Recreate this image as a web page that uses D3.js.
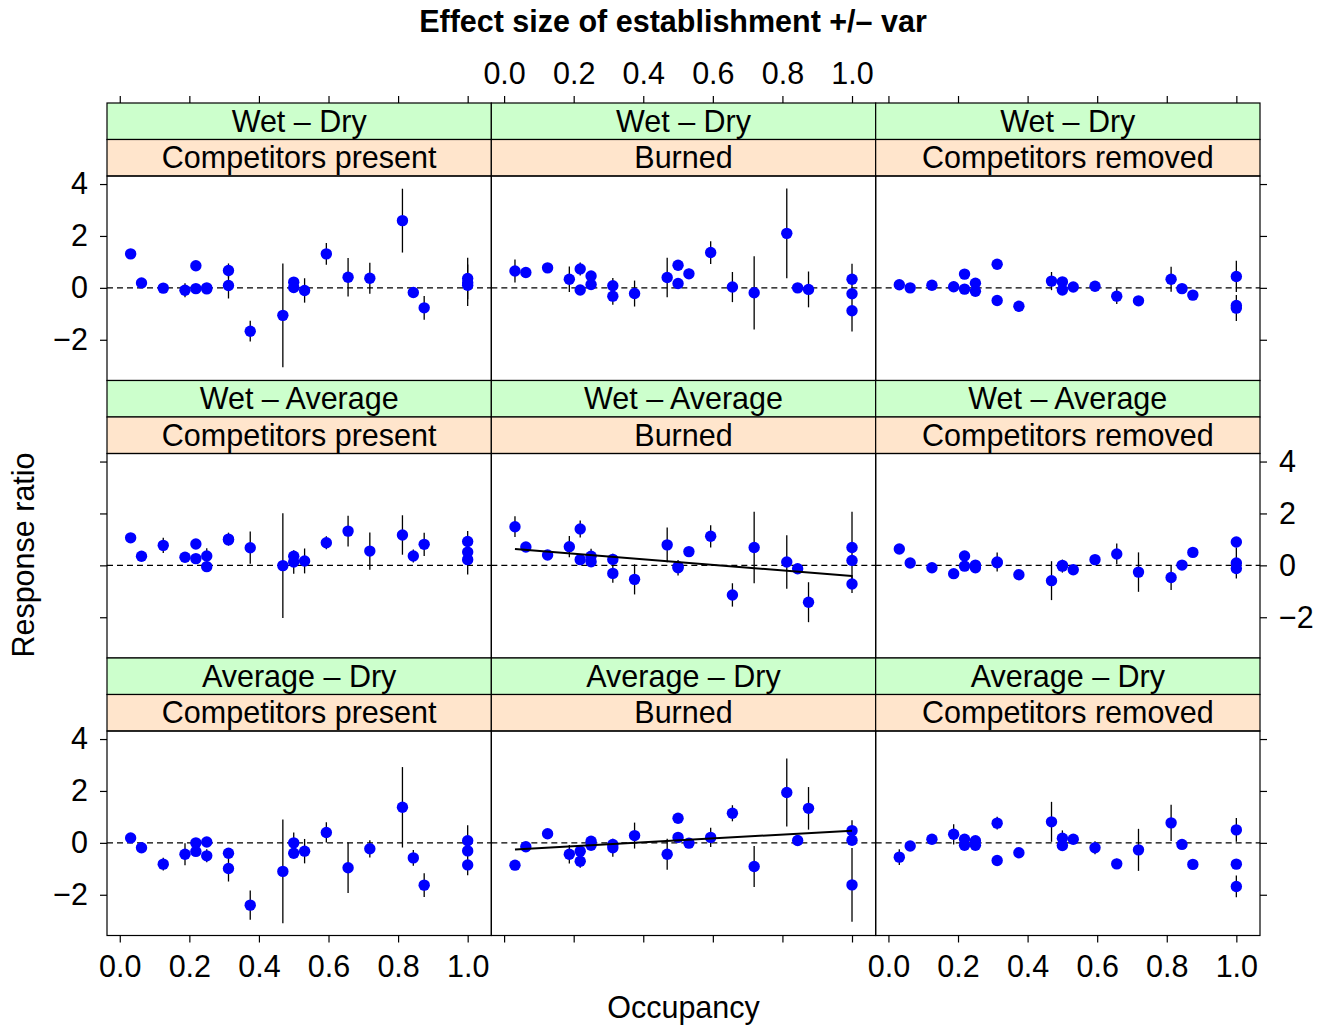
<!DOCTYPE html>
<html>
<head>
<meta charset="utf-8">
<script src="https://cdn.jsdelivr.net/npm/d3@7"></script>
<style>
  html, body { margin: 0; padding: 0; background: #fff; }
  svg { display: block; font-family: "Liberation Sans", Arial, Helvetica, sans-serif; }
</style>
</head>
<body>
<svg id="chart" width="1332" height="1027"></svg>
<script>
// Occupancy of each species (shared by all panels)
const occupancy = [0.03125, 0.0625, 0.125, 0.1875, 0.21875, 0.21875, 0.25, 0.25,
  0.3125, 0.3125, 0.375, 0.46875, 0.5, 0.5, 0.53125, 0.59375, 0.65625, 0.71875,
  0.8125, 0.84375, 0.875, 1, 1, 1];

const contrasts = ["Wet – Dry", "Wet – Average", "Average – Dry"];
const treatments = ["Competitors present", "Burned", "Competitors removed"];

const xTicks = [0, 0.2, 0.4, 0.6, 0.8, 1.0];
const yTicks = [-2, 0, 2, 4];
const xLimits = [-0.0367, 1.068];
const yLimits = [-3.57, 4.31];

// Wet – Dry
const wetDryPresent = [1.31, 0.19, -0.01, -0.09, 0.85, -0.03, 0.00, -0.04, 0.67, 0.09, -1.67, -1.06, 0.22, 0.01, -0.10, 1.31, 0.41, 0.37, 2.59, -0.18, -0.77, 0.36, 0.20, 0.10];
const wetDryPresentVar = [0.15, 0.05, 0.05, 0.27, 0.10, 0.05, 0.05, 0.05, 0.27, 0.50, 0.40, 2.00, 0.10, 0.10, 0.47, 0.42, 0.74, 0.60, 1.23, 0.10, 0.46, 0.80, 0.30, 0.80];
const wetDryBurned = [0.65, 0.59, 0.77, 0.33, 0.73, -0.08, 0.46, 0.13, 0.08, -0.32, -0.22, 0.40, 0.87, 0.17, 0.54, 1.36, 0.03, -0.19, 2.10, 0.00, -0.06, 0.33, -0.23, -0.88];
const wetDryBurnedVar = [0.44, 0.10, 0.10, 0.49, 0.25, 0.10, 0.10, 0.10, 0.30, 0.33, 0.50, 0.76, 0.10, 0.15, 0.20, 0.44, 0.58, 1.41, 1.73, 0.10, 0.69, 0.60, 0.10, 0.80];
const wetDryRemoved = [0.12, 0.00, 0.10, 0.04, 0.53, -0.05, 0.18, -0.13, 0.91, -0.49, -0.71, 0.26, 0.23, -0.08, 0.03, 0.06, -0.32, -0.50, 0.33, -0.03, -0.28, 0.44, -0.68, -0.78];
const wetDryRemovedVar = [0.10, 0.05, 0.05, 0.20, 0.05, 0.05, 0.05, 0.05, 0.05, 0.05, 0.20, 0.35, 0.05, 0.05, 0.05, 0.05, 0.30, 0.05, 0.48, 0.05, 0.05, 0.60, 0.10, 0.50];

// Wet – Average
const wetAvgPresent = [1.06, 0.35, 0.77, 0.31, 0.82, 0.26, 0.36, -0.05, 1.01, 0.98, 0.68, -0.01, 0.35, 0.13, 0.17, 0.87, 1.32, 0.55, 1.17, 0.36, 0.81, 0.92, 0.51, 0.22];
const wetAvgPresentVar = [0.10, 0.05, 0.29, 0.05, 0.10, 0.05, 0.30, 0.05, 0.25, 0.10, 0.62, 2.02, 0.10, 0.45, 0.48, 0.25, 0.59, 0.72, 0.76, 0.25, 0.45, 0.40, 0.10, 0.57];
const wetAvgBurned = [1.49, 0.71, 0.40, 0.72, 1.40, 0.22, 0.35, 0.14, 0.23, -0.31, -0.54, 0.79, -0.09, -0.05, 0.53, 1.12, -1.14, 0.69, 0.13, -0.13, -1.42, 0.69, 0.19, -0.72];
const wetAvgBurnedVar = [0.40, 0.10, 0.10, 0.41, 0.33, 0.10, 0.29, 0.10, 0.22, 0.36, 0.58, 0.67, 0.30, 0.10, 0.10, 0.43, 0.45, 1.38, 1.03, 0.10, 0.77, 1.38, 0.10, 0.35];
const wetAvgRemoved = [0.63, 0.09, -0.09, -0.32, 0.36, -0.03, 0.01, -0.09, 0.13, 0.10, -0.36, -0.59, -0.03, 0.00, -0.17, 0.22, 0.44, -0.26, -0.47, 0.01, 0.50, 0.90, 0.09, -0.12];
const wetAvgRemovedVar = [0.05, 0.05, 0.05, 0.05, 0.05, 0.05, 0.05, 0.05, 0.37, 0.05, 0.10, 0.75, 0.25, 0.05, 0.05, 0.05, 0.40, 0.76, 0.48, 0.05, 0.05, 0.10, 0.60, 0.10];

// Average – Dry
const avgDryPresent = [0.19, -0.19, -0.82, -0.44, 0.00, -0.33, 0.03, -0.50, -0.40, -0.99, -2.40, -1.10, 0.00, -0.40, -0.32, 0.40, -0.96, -0.23, 1.37, -0.58, -1.63, 0.08, -0.31, -0.85];
const avgDryPresentVar = [0.15, 0.05, 0.25, 0.42, 0.10, 0.10, 0.05, 0.25, 0.10, 0.50, 0.56, 2.00, 0.40, 0.10, 0.47, 0.39, 0.97, 0.33, 1.55, 0.30, 0.46, 0.60, 0.10, 0.40];
const avgDryBurned = [-0.86, -0.15, 0.35, -0.44, -0.32, -0.71, 0.06, -0.09, -0.06, -0.19, 0.28, -0.44, 0.95, 0.21, -0.01, 0.21, 1.14, -0.91, 1.94, 0.09, 1.33, 0.47, 0.10, -1.62];
const avgDryBurnedVar = [0.05, 0.05, 0.05, 0.36, 0.10, 0.25, 0.10, 0.05, 0.10, 0.35, 0.50, 0.60, 0.05, 0.10, 0.05, 0.37, 0.31, 0.79, 1.31, 0.05, 0.82, 0.40, 0.10, 1.42];
const avgDryRemoved = [-0.55, -0.12, 0.14, 0.33, 0.14, -0.09, 0.08, -0.09, 0.76, -0.68, -0.38, 0.81, 0.18, -0.10, 0.14, -0.19, -0.81, -0.27, 0.77, -0.06, -0.83, 0.50, -0.82, -1.68];
const avgDryRemovedVar = [0.30, 0.05, 0.05, 0.39, 0.20, 0.05, 0.05, 0.05, 0.25, 0.05, 0.05, 0.77, 0.30, 0.05, 0.05, 0.25, 0.20, 0.81, 0.70, 0.05, 0.05, 0.46, 0.05, 0.42];

// Fitted regression lines [intercept, slope] for burned plots
const wetAvgBurnedFit = [0.66, -1.07];
const avgDryBurnedFit = [-0.28, 0.75];

const panels = [
  { row: 0, col: 0, y: wetDryPresent, v: wetDryPresentVar },
  { row: 0, col: 1, y: wetDryBurned, v: wetDryBurnedVar },
  { row: 0, col: 2, y: wetDryRemoved, v: wetDryRemovedVar },
  { row: 1, col: 0, y: wetAvgPresent, v: wetAvgPresentVar },
  { row: 1, col: 1, y: wetAvgBurned, v: wetAvgBurnedVar, fit: wetAvgBurnedFit },
  { row: 1, col: 2, y: wetAvgRemoved, v: wetAvgRemovedVar },
  { row: 2, col: 0, y: avgDryPresent, v: avgDryPresentVar },
  { row: 2, col: 1, y: avgDryBurned, v: avgDryBurnedVar, fit: avgDryBurnedFit },
  { row: 2, col: 2, y: avgDryRemoved, v: avgDryRemovedVar }
];

// ---- layout ----
const gridLeft = 107, gridRight = 1260, gridTop = 103;
const colW = (gridRight - gridLeft) / 3;
const stripH = 36.5, panelH = 204.5;
const rowH = 2 * stripH + panelH;
const fontSize = 30.5;
const tickLen = 7;

const svg = d3.select("#chart");

const fmtX = d3.format(".1f");
const fmtY = d => d < 0 ? "\u2212" + Math.abs(d) : String(d);

function xScale(col) {
  return d3.scaleLinear().domain(xLimits).range([gridLeft + col * colW, gridLeft + (col + 1) * colW]);
}
function yScale(row) {
  const pTop = gridTop + row * rowH + 2 * stripH;
  return d3.scaleLinear().domain(yLimits).range([pTop + panelH, pTop]);
}

panels.forEach(p => {
  const x = xScale(p.col), y = yScale(p.row);
  const x0 = gridLeft + p.col * colW;
  const sTop = gridTop + p.row * rowH;
  const g = svg.append("g");

  // strips: contrast (green) above treatment (orange)
  const strips = [
    { label: contrasts[p.row], fill: "#ccffcc", y0: sTop },
    { label: treatments[p.col], fill: "#ffe5cc", y0: sTop + stripH }
  ];
  strips.forEach(s => {
    g.append("rect").attr("x", x0).attr("y", s.y0).attr("width", colW).attr("height", stripH)
      .attr("fill", s.fill).attr("stroke", "#000").attr("stroke-width", 1.2);
    g.append("text").attr("x", x0 + colW / 2).attr("y", s.y0 + stripH / 2 + 10.5)
      .attr("text-anchor", "middle").attr("font-size", fontSize).text(s.label);
  });

  const pts = occupancy.map((o, i) => ({ x: o, y: p.y[i], v: p.v[i] }));

  // reference line at zero
  g.append("line").attr("x1", x.range()[0]).attr("x2", x.range()[1])
    .attr("y1", y(0)).attr("y2", y(0))
    .attr("stroke", "#000").attr("stroke-width", 1.2).attr("stroke-dasharray", "6,4");

  // +/- var bars
  g.selectAll("line.bar").data(pts).join("line").attr("class", "bar")
    .attr("x1", d => x(d.x)).attr("x2", d => x(d.x))
    .attr("y1", d => y(d.y - d.v)).attr("y2", d => y(d.y + d.v))
    .attr("stroke", "#000").attr("stroke-width", 1.3);

  // effect sizes
  g.selectAll("circle").data(pts).join("circle")
    .attr("cx", d => x(d.x)).attr("cy", d => y(d.y)).attr("r", 5.7)
    .attr("fill", "#0000ff");

  // regression line over the occupancy range
  if (p.fit) {
    const ext = d3.extent(occupancy);
    const line = d3.line().x(d => x(d)).y(d => y(p.fit[0] + p.fit[1] * d));
    g.append("path").attr("d", line(ext)).attr("fill", "none")
      .attr("stroke", "#000").attr("stroke-width", 2);
  }

  // panel frame
  g.append("rect").attr("x", x0).attr("y", y.range()[1]).attr("width", colW).attr("height", panelH)
    .attr("fill", "none").attr("stroke", "#000").attr("stroke-width", 1.2);
});

// ---- axes ----
const gridBottom = gridTop + 3 * rowH;
for (let c = 0; c < 3; c++) {
  const x = xScale(c);
  // top axis: labels only above middle column
  const topAxis = d3.axisTop(x).tickValues(xTicks).tickSize(tickLen).tickPadding(12)
    .tickFormat(c === 1 ? fmtX : () => "");
  svg.append("g").attr("transform", `translate(0,${gridTop})`).call(topAxis);
  // bottom axis: labels below outer columns
  const botAxis = d3.axisBottom(x).tickValues(xTicks).tickSize(tickLen).tickPadding(13)
    .tickFormat(c !== 1 ? fmtX : () => "");
  svg.append("g").attr("transform", `translate(0,${gridBottom})`).call(botAxis);
}
for (let r = 0; r < 3; r++) {
  const y = yScale(r);
  const leftAxis = d3.axisLeft(y).tickValues(yTicks).tickSize(tickLen).tickPadding(12)
    .tickFormat(r !== 1 ? fmtY : () => "");
  svg.append("g").attr("transform", `translate(${gridLeft},0)`).call(leftAxis);
  const rightAxis = d3.axisRight(y).tickValues(yTicks).tickSize(tickLen).tickPadding(12)
    .tickFormat(r === 1 ? fmtY : () => "");
  svg.append("g").attr("transform", `translate(${gridRight},0)`).call(rightAxis);
}
svg.selectAll(".domain").remove();
svg.selectAll(".tick line").attr("stroke", "#000").attr("stroke-width", 1.2);
svg.selectAll(".tick text").attr("font-size", fontSize).attr("fill", "#000")
  .attr("font-family", "Liberation Sans, Arial, sans-serif");

// ---- titles ----
svg.append("text").attr("x", 673).attr("y", 32).attr("text-anchor", "middle")
  .attr("font-size", fontSize).attr("font-weight", "bold")
  .text("Effect size of establishment +/\u2013 var");
svg.append("text").attr("x", (gridLeft + gridRight) / 2).attr("y", 1018).attr("text-anchor", "middle")
  .attr("font-size", fontSize).text("Occupancy");
svg.append("text").attr("transform", "translate(34,555) rotate(-90)").attr("text-anchor", "middle")
  .attr("font-size", fontSize).text("Response ratio");
</script>
</body>
</html>
